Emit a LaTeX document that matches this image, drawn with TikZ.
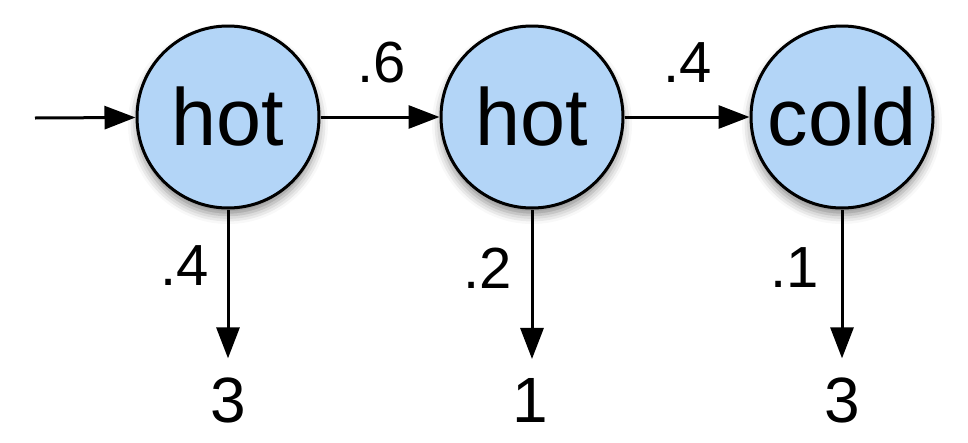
\documentclass[tikz,border=0pt]{standalone}
\usepackage{fontspec}
\setmainfont{Liberation Sans}
\usetikzlibrary{arrows.meta,shadows.blur}
\definecolor{statefill}{HTML}{B3D5F7}
\begin{document}
\begin{tikzpicture}[x=1pt,y=-1pt,
  state/.style={circle,draw=black,line width=3pt,fill=statefill,
    minimum size=182pt,inner sep=0pt,
    font=\fontsize{81}{81}\selectfont,
    blur shadow={shadow xshift=0pt,shadow yshift=-7pt,shadow blur radius=9pt,shadow opacity=45}},
  prob/.style={inner sep=0pt,font=\fontsize{58}{58}\selectfont},
  obs/.style={inner sep=0pt,outer sep=19pt,font=\fontsize{64}{64}\selectfont},
  link/.style={line width=3pt,-{Triangle[length=31pt,width=23pt]}}]
\useasboundingbox (0,0) rectangle (968,442);
% hidden states
\node[state] (s1) at (228,117) {hot};
\node[state] (s2) at (532,117) {hot};
\node[state] (s3) at (842,117) {cold};
% observations
\node[obs] (o1) at (228,400) {3};
\node[obs] (o2) at (530,400) {1};
\node[obs] (o3) at (842,400) {3};
% start arrow
\coordinate (start) at (35,118);
\draw[link] (start) -- (s1);
% transitions
\draw[link] (s1) -- (s2);
\draw[link] (s2) -- (s3);
\node[prob] (t12) at (382,63) {.6};
\node[prob] (t23) at (688,63) {.4};
% emissions
\draw[link] (s1.south) -- (o1.north -| s1.south);
\draw[link] (s2.south) -- (o2.north -| s2.south);
\draw[link] (s3.south) -- (o3.north -| s3.south);
\node[prob] (e1) at (185,266) {.4};
\node[prob] (e2) at (488,268) {.2};
\node[prob] (e3) at (795,268) {.1};
\end{tikzpicture}
\end{document}
